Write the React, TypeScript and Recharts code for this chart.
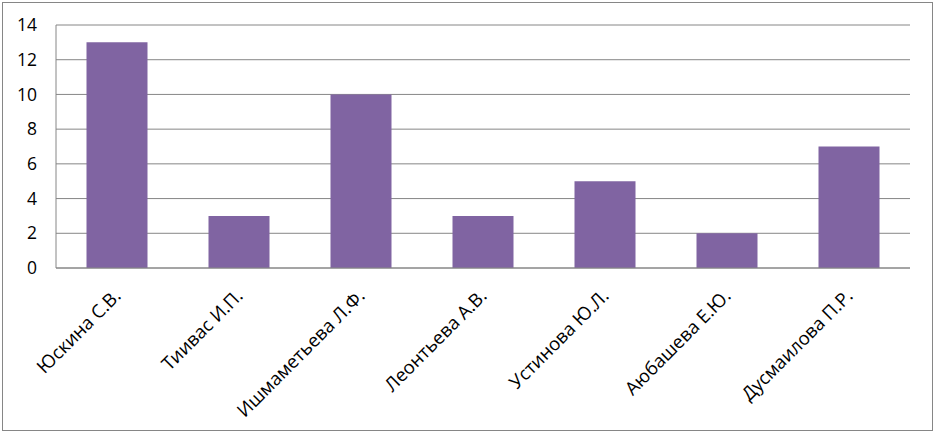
import React from "react";
import { BarChart, Bar, XAxis, YAxis, CartesianGrid } from "recharts";

const categories = [
  "Юскина С.В.",
  "Тиивас И.П.",
  "Ишмаметьева Л.Ф.",
  "Леонтьева А.В.",
  "Устинова Ю.Л.",
  "Аюбашева Е.Ю.",
  "Дусмаилова П.Р.",
];
const values = [13, 3, 10, 3, 5, 2, 7];
const yTicks = [0, 2, 4, 6, 8, 10, 12, 14];

const data = categories.map((name, i) => ({ name, value: values[i] }));

const FONT = "'Open Sans', 'Noto Sans', sans-serif";

const XTick = (props: any) => {
  const { x, y, payload } = props;
  return (
    <g transform={`translate(${x + 5},${y + 21})`}>
      <text
        x={0}
        y={0}
        transform="rotate(-45)"
        textAnchor="end"
        fontFamily={FONT}
        fontSize={18.5}
        fill="#000"
      >
        {payload.value}
      </text>
    </g>
  );
};

export default function App() {
  return (
    <div style={{ position: "fixed", left: 0, top: 0, width: 934, height: 432, background: "#fff" }}>
      <div
        style={{
          position: "absolute",
          left: 2,
          top: 2,
          width: 929,
          height: 427,
          border: "1px solid #868686",
        }}
      />
      <div style={{ position: "absolute", left: 0, top: 0 }}>
        <BarChart
          width={934}
          height={432}
          data={data}
          margin={{ top: 25, right: 24, left: 0, bottom: 0 }}
          barCategoryGap="25%"
        >
          <CartesianGrid vertical={false} stroke="#868686" strokeWidth={1} />
          <XAxis
            dataKey="name"
            height={164}
            interval={0}
            tickLine={false}
            axisLine={{ stroke: "#868686" }}
            tick={<XTick />}
          />
          <YAxis
            width={56}
            domain={[0, 14]}
            ticks={yTicks}
            interval={0}
            tickLine={false}
            axisLine={{ stroke: "#868686" }}
            tickMargin={13}
            tick={{ fill: "#000", fontSize: 17.5, fontFamily: FONT }}
          />
          <Bar dataKey="value" fill="#8064A2" isAnimationActive={false} />
        </BarChart>
      </div>
    </div>
  );
}
